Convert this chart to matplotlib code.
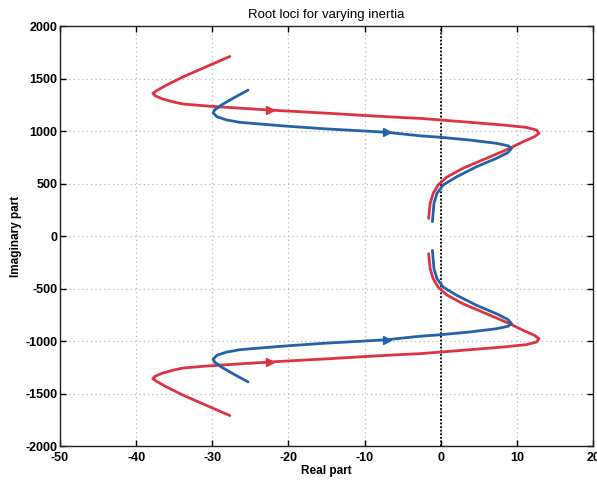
import numpy as np
import matplotlib.pyplot as plt

plt.rcParams['font.family'] = ['Liberation Sans', 'DejaVu Sans']
plt.rcParams['axes.unicode_minus'] = False

# upper branches of the two loci (lower branches are the conjugates)
red_re = [-27.7, -30.8, -33.8, -36.0, -37.3, -37.8, -37.5, -36.5, -35.0, -33.8, -30.7, -27.3, -23.8,
          -22.4, -21.1, -15.0, -10.0, -5.0, -2.8, 0.0, 3.8, 8.2, 11.2, 12.55, 12.9, 12.3, 10.8,
          9.05, 6.0, 2.9, 0.75, -0.35, -1.0, -1.4, -1.6]
red_im = [1710, 1612, 1517, 1438, 1385, 1359, 1335, 1305, 1275, 1257, 1238, 1222, 1206,
          1200, 1194, 1170, 1148, 1128, 1121, 1105, 1083, 1057, 1035, 1010, 978, 946, 898,
          835, 740, 645, 559, 486, 406, 311, 168]
red_arrow = 13

blue_re = [-25.3, -27.3, -28.8, -29.7, -29.9, -29.4, -28.1, -26.4, -23.8, -20.0, -15.0, -10.0,
           -7.0, -2.8, 0.0, 3.8, 7.3, 8.8, 9.3, 8.8, 7.3, 4.7, 2.1, 0.3, -0.5, -0.9, -1.1]
blue_im = [1390, 1311, 1248, 1200, 1174, 1136, 1105, 1083, 1067, 1045, 1020, 1000,
           987, 955, 940, 914, 883, 860, 835, 794, 740, 660, 565, 486, 406, 311, 137]
blue_arrow = 12

xticks = [-50, -40, -30, -20, -10, 0, 10, 20]
yticks = [-2000, -1500, -1000, -500, 0, 500, 1000, 1500, 2000]

red = '#dc3342'
blue = '#2462a8'

fig = plt.figure(figsize=(5.97, 4.80), dpi=100)
ax = fig.add_axes([0.1005, 0.0708, 0.893, 0.875])

ax.grid(True, linestyle=(0, (1, 2.5)), color='#b8b8b8', lw=0.9)
ax.axvline(0, color='black', linestyle=(0, (1, 1)), lw=1.3, zorder=3)

for re, im, k, c in [(red_re, red_im, red_arrow, red), (blue_re, blue_im, blue_arrow, blue)]:
    re = np.array(re)
    im = np.array(im)
    for sgn in (1, -1):
        ax.plot(re, sgn * im, color=c, lw=2.0, zorder=4,
                solid_capstyle='round', solid_joinstyle='round')
        ax.plot(re[k], sgn * im[k], marker='>', color=c, markersize=5.5, zorder=5)

ax.set_xlim(-50, 20)
ax.set_ylim(-2000, 2000)
ax.set_xticks(xticks)
ax.set_yticks(yticks)
ax.tick_params(direction='in', top=True, right=True, length=4, width=1,
               labelsize=9, pad=2)
ax.tick_params(axis='x', pad=4)
for lab in ax.get_xticklabels() + ax.get_yticklabels():
    lab.set_fontweight('bold')
for sp in ax.spines.values():
    sp.set_linewidth(1.0)
    sp.set_color('#222222')

ax.set_title('Root loci for varying inertia', fontsize=9.5, pad=6)
ax.set_xlabel('Real part', fontsize=8.5, fontweight='bold', labelpad=1)
ax.set_ylabel('Imaginary part', fontsize=8.5, fontweight='bold', labelpad=2)

fig.savefig('out.png', dpi=100)
